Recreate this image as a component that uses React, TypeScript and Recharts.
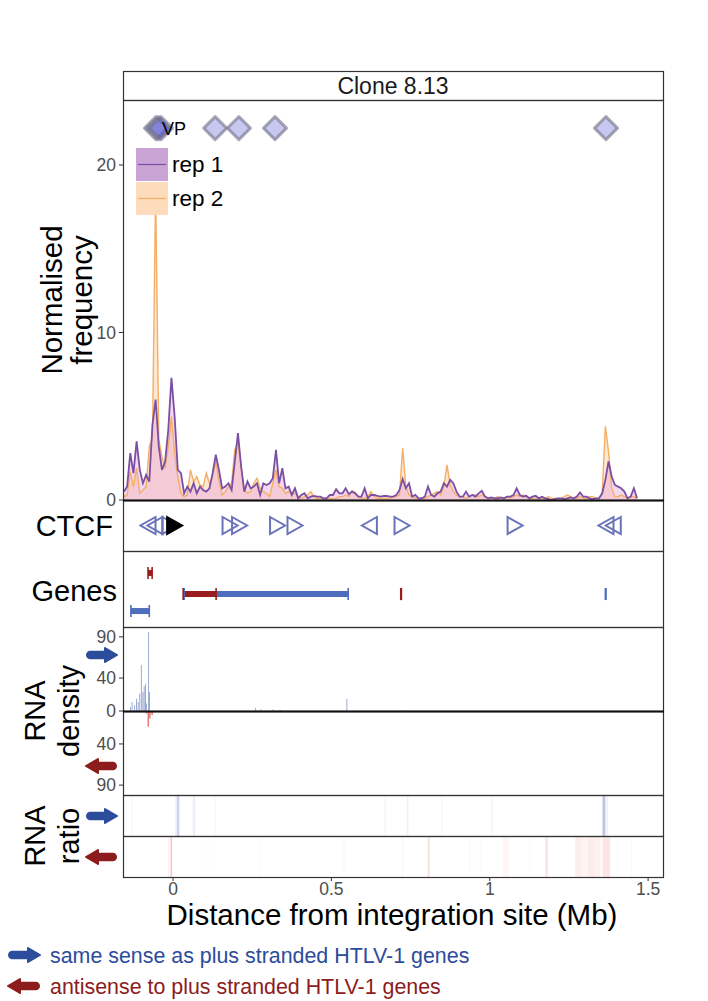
import React from 'react';
import {
  ComposedChart,
  Area,
  Line,
  Scatter,
  Bar,
  XAxis,
  YAxis,
  ReferenceArea,
  ReferenceLine,
} from 'recharts';

const FONT = '"Liberation Sans", Arial, Helvetica, sans-serif';
const X_DOMAIN: [number, number] = [-0.158, 1.547];

// normalised frequency, 0.01 Mb bins
const binStart = -0.155;
const binWidth = 0.01;
const rep1 = [
  0.5, 0.8, 2.8, 1.6, 3.5, 1.8, 1.0, 1.5, 1.1, 4.5,
  6.0, 3.2, 1.8, 2.3, 4.2, 7.3, 5.0, 1.8, 1.6, 0.4,
  0.8, 0.5, 1.0, 0.4, 0.8, 0.6, 0.5, 0.7, 1.6, 2.7,
  1.8, 0.7, 0.8, 1.0, 0.6, 2.3, 4.0, 2.0, 0.5, 1.1,
  0.7, 0.8, 1.0, 0.3, 1.0, 0.9, 1.0, 1.3, 3.0, 1.0,
  1.9, 0.7, 0.8, 0.3, 0.7, 0.1, 0.3, 0.4, 0.1, 0.2,
  0.25, 0.2, 0.2, 0.1, 0.1, 0.3, 0.3, 0.65, 0.4, 0.4,
  0.7, 0.35, 0.5, 0.4, 0.2, 0.2, 0.7, 0.1, 0.3, 0.3,
  0.25, 0.2, 0.25, 0.24, 0.2, 0.2, 0.3, 0.6, 1.25, 0.7,
  1.0, 0.2, 0.3, 0.1, 0.1, 0.2, 0.8, 0.3, 0.2, 0.4,
  0.5, 1.0, 0.8, 1.2, 1.0, 0.5, 0.2, 0.2, 0.5, 0.2,
  0.3, 0.2, 0.4, 0.55, 0.2, 0.1, 0.15, 0.1, 0.1, 0.15,
  0.1, 0.2, 0.2, 0.3, 0.7, 0.3, 0.2, 0.25, 0.1, 0.2,
  0.25, 0.1, 0.2, 0.1, 0.05, 0, 0.05, 0.1, 0.1, 0.05,
  0.1, 0.15, 0.1, 0.2, 0.45, 0.2, 0.2, 0.1, 0.05, 0.1,
  0.1, 0.4, 1.2, 2.3, 1.4, 0.9, 0.8, 0.7, 0.5, 0.1,
  0.2, 0.7, 0.1,
];
const rep2 = [
  0.2, 0.3, 1.7, 0.8, 1.9, 0.4, 0.6, 0.8, 3.2, 3.7,
  18.5, 3.6, 2.6, 1.9, 3.2, 5.0, 2.8, 1.4, 0.4, 0.2,
  0.3, 1.8, 1.1, 1.4, 0.9, 0.8, 1.6, 1.0, 1.4, 2.3,
  1.2, 0.3, 0.5, 0.8, 1.0, 3.0, 3.4, 2.0, 0.6, 0.4,
  0.5, 1.0, 1.3, 0.7, 0.5, 0.4, 0.2, 1.0, 1.8, 0.8,
  0.7, 0.4, 0.5, 0.4, 0.4, 0.2, 0.1, 0.2, 0.3, 0.5,
  0.2, 0.1, 0.1, 0.1, 0.1, 0.1, 0.1, 0.1, 0.2, 0.2,
  0.3, 0.2, 0.55, 0.45, 0.2, 0.1, 0.1, 0.2, 0.5, 0.2,
  0.1, 0.1, 0.1, 0.1, 0.1, 0.2, 0.2, 0.3, 3.1, 0.8,
  0.3, 0.2, 0.1, 0.1, 0.1, 0.1, 0.2, 0.3, 0.4, 0.5,
  0.3, 0.8, 2.1, 0.9, 0.5, 0.3, 0.2, 0.2, 0.1, 0.2,
  0.3, 0.3, 0.2, 0.3, 0.2, 0.1, 0.1, 0.1, 0.2, 0.1,
  0.1, 0.2, 0.1, 0.2, 0.3, 0.2, 0.3, 0.2, 0.1, 0.1,
  0.1, 0.1, 0.1, 0.1, 0.2, 0.1, 0.1, 0.1, 0.1, 0.2,
  0.3, 0.2, 0.1, 0.1, 0.2, 0.1, 0.1, 0.2, 0.2, 0.1,
  0.1, 0.4, 4.4, 2.9, 0.7, 0.2, 0.2, 0.3, 0.2, 0.1,
  0.2, 0.2, 0.1,
];

// viewpoints (diamonds)
const vpPos = [-0.054, -0.046, -0.038, 0.133, 0.208, 0.322, 1.367];
const vpLevel = 22.2;

// CTCF sites
const ctcfPos = [-0.079, -0.057, -0.01, 0.18, 0.21, 0.33, 0.385, 0.62, 0.723, 1.08, 1.367, 1.39];
const ctcfStrand = ['-', '-', '+', '+', '+', '+', '+', '-', '+', '+', '-', '-'];
const proviralPos = [0.005];

// genes
const geneStart = [-0.079, 0.035, 0.032, 0.719, 1.365, -0.133];
const geneEnd = [-0.066, 0.553, 0.136, 0.721, 1.367, -0.075];
const geneRow = [0.711, 0.434, 0.434, 0.434, 0.434, 0.21];
const geneStrand = ['-', '+', '-', '-', '+', '+'];

// RNA density
const plusDensX = [-0.134, -0.129, -0.121, -0.115, -0.11, -0.105, -0.1, -0.095, -0.091, -0.087, -0.084, -0.077, -0.074, 0.261, 0.278, 0.316, 0.338, 0.549, 0.717];
const plusDensV = [5, 11, 7, 15, 11, 21, 56, 23, 30, 33, 9, 96, 23, 4, 2, 2, 1.5, 15, 1];
const minusDensX = [-0.084, -0.078, -0.073, -0.066];
const minusDensV = [3, 19, 9, 5];

// RNA ratio tiles
const ratioPlusStart = [-0.13, 0.007, 0.012, 0.062, 0.132, 0.668, 0.738, 0.848, 1.005, 1.356, 1.369];
const ratioPlusEnd = [-0.127, 0.011, 0.02, 0.07, 0.135, 0.672, 0.743, 0.852, 1.01, 1.365, 1.373];
const ratioPlusAlpha = [0.06, 0.12, 0.3, 0.1, 0.06, 0.08, 0.1, 0.05, 0.06, 0.4, 0.12];
const ratioMinusStart = [-0.016, -0.008, 0.109, 0.272, 0.538, 0.722, 0.804, 0.935, 0.968, 1.04, 1.125, 1.175, 1.27, 1.29, 1.31, 1.33, 1.356, 1.402, 1.446];
const ratioMinusEnd = [-0.012, -0.003, 0.112, 0.275, 0.541, 0.727, 0.81, 0.938, 0.971, 1.06, 1.128, 1.184, 1.29, 1.31, 1.33, 1.35, 1.38, 1.405, 1.449];
const ratioMinusAlpha = [0.1, 0.4, 0.05, 0.05, 0.05, 0.06, 0.22, 0.06, 0.06, 0.06, 0.06, 0.18, 0.12, 0.08, 0.14, 0.1, 0.18, 0.06, 0.05];

const xTicks = [0, 0.5, 1, 1.5];

const freqData = rep1.map((v, i) => ({
  x: +(binStart + i * binWidth).toFixed(3),
  rep1: v,
  rep2: rep2[i],
}));
const vpData = vpPos.map((x) => ({ x, y: vpLevel }));
const ctcfData = ctcfPos.map((x, i) => ({ x, y: 0.5, strand: ctcfStrand[i], solid: false }));
const proviralData = proviralPos.map((x) => ({ x, y: 0.5, strand: '+', solid: true }));
const plusDensData = plusDensX.map((x, i) => ({ x, v: plusDensV[i] }));
const minusDensData = minusDensX.map((x, i) => ({ x, v: minusDensV[i] }));
const ratioPlusRows = ratioPlusStart.map((x) => ({ x, y: 0.5 }));
const ratioMinusRows = ratioMinusStart.map((x) => ({ x, y: 0.5 }));

const BLUE = '#2c4c9c';
const RED = '#8d1c1c';
const GENE_BLUE = '#4f6dbd';
const GENE_RED = '#9c1d1d';
const CHART_W = 708;
const MR = 45;
const tickStyle = { fontSize: 17.5, fill: '#4d4d4d', fontFamily: FONT };

const Diamond = (props: any) => {
  const { cx, cy } = props;
  const r = 11.5;
  return (
    <polygon
      points={`${cx},${cy - r} ${cx + r},${cy} ${cx},${cy + r} ${cx - r},${cy}`}
      fill="rgba(70,70,205,0.3)"
      stroke="rgba(115,115,135,0.62)"
      strokeWidth={3}
      strokeLinejoin="round"
    />
  );
};

const VPText = (props: any) => (
  <text x={props.cx + 1} y={props.cy + 7} textAnchor="middle" fontSize={18} fontFamily={FONT} fill="#000">
    VP
  </text>
);

const Triangle = (props: any) => {
  const { cx, cy, payload } = props;
  const w = 7.5;
  const h = 8.5;
  const pts =
    payload.strand === '+'
      ? `${cx - w},${cy - h} ${cx + w},${cy} ${cx - w},${cy + h}`
      : `${cx + w},${cy - h} ${cx - w},${cy} ${cx + w},${cy + h}`;
  return (
    <polygon
      points={pts}
      fill={payload.solid ? '#000' : 'none'}
      stroke={payload.solid ? '#000' : '#6a73b9'}
      strokeWidth={2}
    />
  );
};

const NoShape = () => <g />;

function Arrow({ x0, x1, y, dir, color }: { x0: number; x1: number; y: number; dir: 'r' | 'l'; color: string }) {
  const head = 12;
  const half = 7;
  const th = 8.5;
  if (dir === 'r') {
    return (
      <g>
        <line x1={x0 + th / 2} y1={y} x2={x1 - head + 1} y2={y} stroke={color} strokeWidth={th} strokeLinecap="round" />
        <polygon points={`${x1 - head},${y - half} ${x1},${y} ${x1 - head},${y + half}`} fill={color} stroke={color} strokeWidth={2} strokeLinejoin="round" />
      </g>
    );
  }
  return (
    <g>
      <line x1={x0 + head - 1} y1={y} x2={x1 - th / 2} y2={y} stroke={color} strokeWidth={th} strokeLinecap="round" />
      <polygon points={`${x0 + head},${y - half} ${x0},${y} ${x0 + head},${y + half}`} fill={color} stroke={color} strokeWidth={2} strokeLinejoin="round" />
    </g>
  );
}

const hiddenX = <XAxis type="number" dataKey="x" domain={X_DOMAIN} hide allowDataOverflow />;

export default function App() {
  const panels = [
    [71, 100],
    [100, 500],
    [500, 551],
    [551, 627],
    [627, 711],
    [711, 795],
    [795, 836],
    [836, 877],
  ];
  return (
    <div style={{ position: 'absolute', left: 0, top: 0, width: 708, height: 1001, background: '#fff', fontFamily: FONT }}>
      {/* main frequency panel */}
      <div style={{ position: 'absolute', left: 0, top: 90 }}>
        <ComposedChart width={CHART_W} height={420} data={freqData} margin={{ top: 10, right: MR, bottom: 10, left: 63 }}>
          {hiddenX}
          <YAxis width={60} type="number" domain={[0, 23.88]} ticks={[0, 10, 20]} interval={0} tick={tickStyle} tickLine={{ stroke: '#333' }} tickSize={4} tickMargin={3} axisLine={false} allowDataOverflow />
          <Area dataKey="rep2" type="linear" stroke="none" fill="#ffcc99" fillOpacity={0.45} isAnimationActive={false} />
          <Area dataKey="rep1" type="linear" stroke="none" fill="#e6a6de" fillOpacity={0.45} isAnimationActive={false} />
          <Line dataKey="rep2" type="linear" stroke="#f5ae66" strokeWidth={1.4} dot={false} isAnimationActive={false} />
          <Line dataKey="rep1" type="linear" stroke="#7b4fa3" strokeWidth={1.8} dot={false} isAnimationActive={false} />
          <Scatter data={vpData} dataKey="y" shape={Diamond} isAnimationActive={false} />
          <Scatter data={[{ x: 0, y: vpLevel }]} dataKey="y" shape={VPText} isAnimationActive={false} />
        </ComposedChart>
      </div>

      {/* CTCF */}
      <div style={{ position: 'absolute', left: 0, top: 490 }}>
        <ComposedChart width={CHART_W} height={71} margin={{ top: 10, right: MR, bottom: 10, left: 123 }}>
          {hiddenX}
          <YAxis hide type="number" domain={[0, 1]} />
          <Scatter data={ctcfData} dataKey="y" shape={Triangle} isAnimationActive={false} />
          <Scatter data={proviralData} dataKey="y" shape={Triangle} isAnimationActive={false} />
        </ComposedChart>
      </div>

      {/* genes */}
      <div style={{ position: 'absolute', left: 0, top: 541 }}>
        <ComposedChart width={CHART_W} height={96} margin={{ top: 10, right: MR, bottom: 10, left: 123 }}>
          {hiddenX}
          <YAxis hide type="number" domain={[0, 1]} />
          {geneStart.map((s, i) => (
            <Line
              key={'g' + i}
              data={[
                { x: s, y: geneRow[i] },
                { x: geneEnd[i], y: geneRow[i] },
              ]}
              dataKey="y"
              stroke={geneStrand[i] === '+' ? GENE_BLUE : GENE_RED}
              strokeWidth={6}
              dot={false}
              isAnimationActive={false}
            />
          ))}
          {geneStart.map((s, i) => (
            <ReferenceLine
              key={'cs' + i}
              segment={[
                { x: s, y: geneRow[i] - 0.08 },
                { x: s, y: geneRow[i] + 0.08 },
              ]}
              stroke={geneStrand[i] === '+' ? GENE_BLUE : GENE_RED}
              strokeWidth={1.6}
            />
          ))}
          {geneEnd.map((e, i) => (
            <ReferenceLine
              key={'ce' + i}
              segment={[
                { x: e, y: geneRow[i] - 0.08 },
                { x: e, y: geneRow[i] + 0.08 },
              ]}
              stroke={geneStrand[i] === '+' ? GENE_BLUE : GENE_RED}
              strokeWidth={1.6}
            />
          ))}
        </ComposedChart>
      </div>

      {/* RNA density, sense */}
      <div style={{ position: 'absolute', left: 0, top: 617 }}>
        <ComposedChart width={CHART_W} height={104} data={plusDensData} margin={{ top: 10, right: MR, bottom: 10, left: 63 }}>
          {hiddenX}
          <YAxis width={60} type="number" domain={[0, 102]} ticks={[0, 40, 90]} interval={0} tick={tickStyle} tickLine={{ stroke: '#333' }} tickSize={4} tickMargin={3} axisLine={false} allowDataOverflow />
          <Bar dataKey="v" fill={BLUE} fillOpacity={0.55} barSize={1.5} isAnimationActive={false} />
        </ComposedChart>
      </div>

      {/* RNA density, antisense */}
      <div style={{ position: 'absolute', left: 0, top: 701 }}>
        <ComposedChart width={CHART_W} height={104} data={minusDensData} margin={{ top: 10, right: MR, bottom: 10, left: 63 }}>
          {hiddenX}
          <YAxis width={60} type="number" reversed domain={[0, 102]} ticks={[40, 90]} interval={0} tick={tickStyle} tickLine={{ stroke: '#333' }} tickSize={4} tickMargin={3} axisLine={false} allowDataOverflow />
          <Bar dataKey="v" fill="#e0403c" fillOpacity={0.7} barSize={1.5} isAnimationActive={false} />
        </ComposedChart>
      </div>

      {/* RNA ratio, sense */}
      <div style={{ position: 'absolute', left: 0, top: 785 }}>
        <ComposedChart width={CHART_W} height={61} data={ratioPlusRows} margin={{ top: 10, right: MR, bottom: 10, left: 123 }}>
          {hiddenX}
          <YAxis hide type="number" domain={[0, 1]} allowDataOverflow />
          <Scatter dataKey="y" shape={NoShape} isAnimationActive={false} />
          {ratioPlusStart.map((s, i) => (
            <ReferenceArea key={'p' + i} x1={s} x2={ratioPlusEnd[i]} fill="#5a6cc4" fillOpacity={ratioPlusAlpha[i]} stroke="none" ifOverflow="visible" />
          ))}
        </ComposedChart>
      </div>

      {/* RNA ratio, antisense + x axis */}
      <div style={{ position: 'absolute', left: 0, top: 826 }}>
        <ComposedChart width={CHART_W} height={81} data={ratioMinusRows} margin={{ top: 10, right: MR, bottom: 0, left: 123 }}>
          <XAxis type="number" dataKey="x" domain={X_DOMAIN} ticks={xTicks} interval={0} height={30} tick={tickStyle} tickLine={{ stroke: '#333' }} tickSize={4} tickMargin={2} axisLine={false} allowDataOverflow />
          <YAxis hide type="number" domain={[0, 1]} allowDataOverflow />
          <Scatter dataKey="y" shape={NoShape} isAnimationActive={false} />
          {ratioMinusStart.map((s, i) => (
            <ReferenceArea key={'m' + i} x1={s} x2={ratioMinusEnd[i]} fill="#e8776a" fillOpacity={ratioMinusAlpha[i]} stroke="none" ifOverflow="visible" />
          ))}
        </ComposedChart>
      </div>

      {/* frames, titles, arrows, legends */}
      <svg width={708} height={1001} style={{ position: 'absolute', left: 0, top: 0, pointerEvents: 'none' }} fontFamily={FONT}>
        {panels.map(([a, b], i) => (
          <rect key={i} x={123.5} y={a + 0.5} width={540} height={b - a} fill="none" stroke="#333" strokeWidth={1.2} />
        ))}
        <line x1={123} x2={664} y1={500.5} y2={500.5} stroke="#111" strokeWidth={2} />
        <line x1={123} x2={664} y1={711.5} y2={711.5} stroke="#111" strokeWidth={2} />
        <text x={393} y={94} textAnchor="middle" fontSize={23} fill="#1a1a1a">Clone 8.13</text>

        <rect x={136} y={148} width={32} height={33} fill="#c9a3d4" />
        <line x1={138} x2={166} y1={164.5} y2={164.5} stroke="#7b4fa3" strokeWidth={1.2} />
        <rect x={136} y={182} width={32} height={33} fill="#fddcbb" />
        <line x1={138} x2={166} y1={198.5} y2={198.5} stroke="#f5ae66" strokeWidth={1.2} />
        <text x={172} y={172} fontSize={22.5} fill="#000">rep 1</text>
        <text x={172} y={206} fontSize={22.5} fill="#000">rep 2</text>

        <text transform="translate(62,300) rotate(-90)" textAnchor="middle" fontSize={29.5} fill="#000">Normalised</text>
        <text transform="translate(92,300) rotate(-90)" textAnchor="middle" fontSize={29.5} fill="#000">frequency</text>
        <text x={113} y={536} textAnchor="end" fontSize={29} fill="#000">CTCF</text>
        <text x={117} y={601} textAnchor="end" fontSize={29} fill="#000">Genes</text>
        <text transform="translate(45,711) rotate(-90)" textAnchor="middle" fontSize={29} fill="#000">RNA</text>
        <text transform="translate(79,711) rotate(-90)" textAnchor="middle" fontSize={29} fill="#000">density</text>
        <text transform="translate(45,836) rotate(-90)" textAnchor="middle" fontSize={29} fill="#000">RNA</text>
        <text transform="translate(79,836) rotate(-90)" textAnchor="middle" fontSize={29} fill="#000">ratio</text>

        <Arrow x0={86} x1={117} y={655} dir="r" color={BLUE} />
        <Arrow x0={86} x1={117} y={766} dir="l" color={RED} />
        <Arrow x0={86} x1={117} y={816} dir="r" color={BLUE} />
        <Arrow x0={86} x1={117} y={857} dir="l" color={RED} />

        <text x={392} y={925} textAnchor="middle" fontSize={29.5} fill="#000">Distance from integration site (Mb)</text>

        <Arrow x0={8} x1={40} y={955} dir="r" color={BLUE} />
        <Arrow x0={8} x1={40} y={986} dir="l" color={RED} />
        <text x={50} y={963} fontSize={21.4} fill={BLUE}>same sense as plus stranded HTLV-1 genes</text>
        <text x={50} y={994} fontSize={21.4} fill={RED}>antisense to plus stranded HTLV-1 genes</text>
      </svg>
    </div>
  );
}
